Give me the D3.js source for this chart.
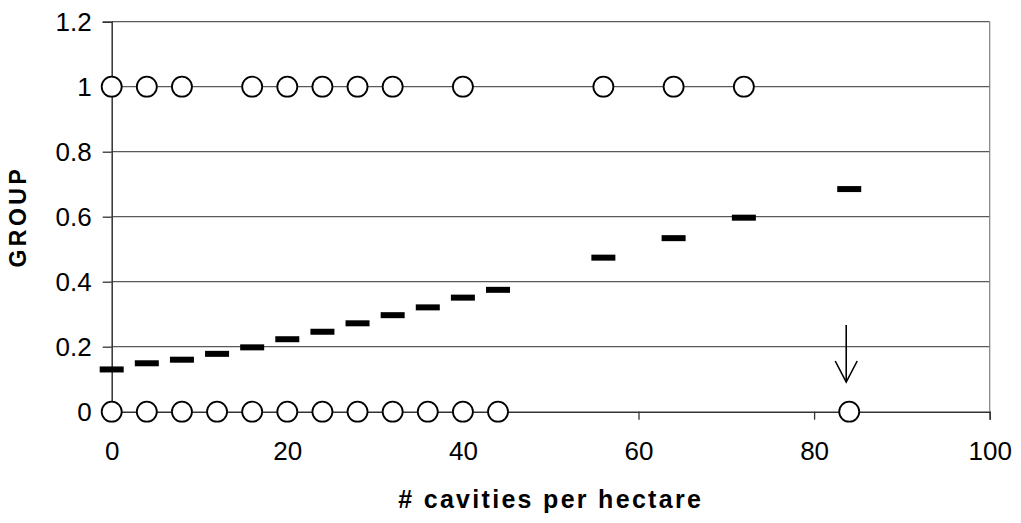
<!DOCTYPE html>
<html><head><meta charset="utf-8">
<script src="https://cdn.jsdelivr.net/npm/d3@7"></script>
<style>body{margin:0;background:#fff;}svg{display:block;}</style>
</head><body>
<svg id="c" width="1021" height="523"></svg>
<script>
const group1X = [0,4,8,16,20,24,28,32,40,56,64,72];
const group0X = [0,4,8,12,16,20,24,28,32,36,40,44,84];
const predX = [0,4,8,12,16,20,24,28,32,36,40,44,56,64,72,84];
const predY = [0.130,0.149,0.160,0.178,0.198,0.223,0.246,0.272,0.297,0.321,0.351,0.375,0.474,0.534,0.597,0.685];
const xTicks = [0,20,40,60,80,100];
const yTicks = [0,0.2,0.4,0.6,0.8,1,1.2];
const arrowX = 84;

const svg = d3.select("#c");
const L=111.7, R=989.7, T=21.7, B=411.7;
const x = d3.scaleLinear().domain([0,100]).range([L,R]);
const y = d3.scaleLinear().domain([0,1.2]).range([B,T]);
const font = "'Liberation Sans', Arial, sans-serif";

// gridlines
svg.append("g").selectAll("line").data(yTicks.filter(d=>d>0)).join("line")
  .attr("x1",L).attr("x2",R).attr("y1",d=>y(d)).attr("y2",d=>y(d))
  .attr("stroke","#5a5a5a").attr("stroke-width",1.2);
// right border
svg.append("line").attr("x1",R).attr("x2",R).attr("y1",T).attr("y2",B)
  .attr("stroke","#808080").attr("stroke-width",1.2);

// y axis
const yAxis = d3.axisLeft(y).tickValues(yTicks).tickSize(9).tickPadding(11)
  .tickFormat(d=>d3.format("")(+d.toFixed(1)));
const gy = svg.append("g").attr("transform",`translate(${L},0)`).call(yAxis);
gy.select(".domain").attr("stroke","#333").attr("stroke-width",1.5);
gy.selectAll(".tick line").attr("stroke","#333").attr("stroke-width",1.3);
gy.selectAll("text").attr("font-family",font).attr("font-size",26).attr("fill","#000");

// x axis
const xAxis = d3.axisBottom(x).tickValues(xTicks).tickSize(8).tickPadding(22).tickFormat(d3.format("d"));
const gx = svg.append("g").attr("transform",`translate(0,${B})`).call(xAxis);
gx.select(".domain").attr("stroke","#333").attr("stroke-width",1.5);
gx.selectAll(".tick line").attr("stroke","#333").attr("stroke-width",1.3);
gx.selectAll("text").attr("font-family",font).attr("font-size",26).attr("fill","#000");

// predicted dashes
svg.append("g").selectAll("rect").data(predX.map((d,i)=>[d,predY[i]])).join("rect")
  .attr("x",d=>x(d[0])-12).attr("y",d=>y(d[1])-3).attr("width",24).attr("height",6)
  .attr("fill","#000");

// circles
const circ = (arr,v)=>svg.append("g").selectAll("circle").data(arr).join("circle")
  .attr("cx",d=>x(d)).attr("cy",y(v)).attr("r",10)
  .attr("fill","#fff").attr("stroke","#000").attr("stroke-width",1.8);
circ(group1X,1);
circ(group0X,0);

// arrow
const ax = x(arrowX)-3;
const a = svg.append("g").attr("stroke","#000").attr("stroke-width",1.6).attr("fill","none");
a.append("line").attr("x1",ax).attr("x2",ax).attr("y1",325).attr("y2",382);
a.append("path").attr("d",`M${ax-11},${361} L${ax},${382} L${ax+11},${361}`);

// titles
svg.append("text").attr("x",(L+R)/2).attr("y",508).attr("text-anchor","middle")
  .attr("font-family",font).attr("font-weight","bold").attr("font-size",25)
  .attr("letter-spacing","2.3").text("# cavities per hectare");
svg.append("text").attr("transform",`translate(26,${(T+B)/2}) rotate(-90)`)
  .attr("text-anchor","middle").attr("font-family",font).attr("font-weight","bold")
  .attr("font-size",23).attr("letter-spacing","3.5").text("GROUP");
</script>
</body></html>
